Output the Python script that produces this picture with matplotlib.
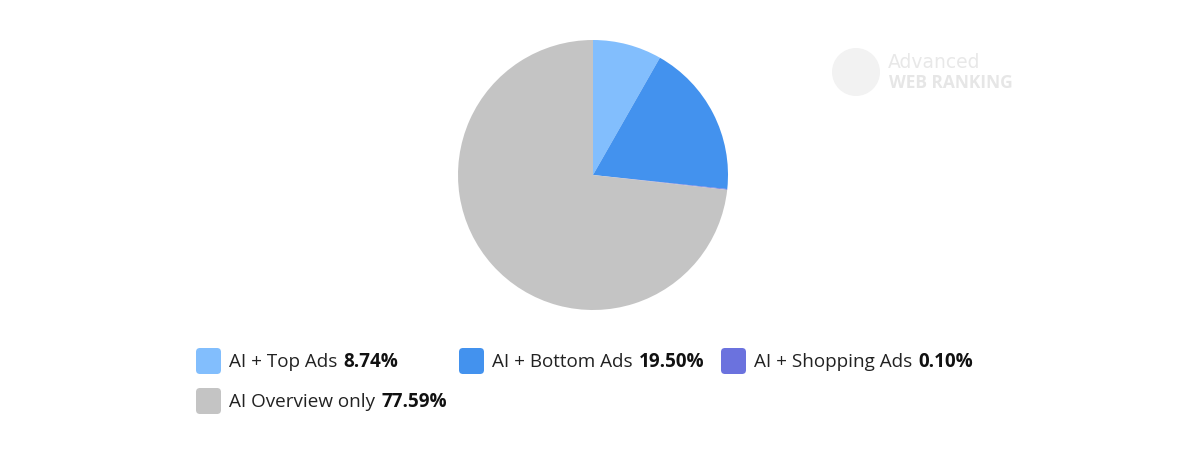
import matplotlib
matplotlib.use("Agg")
import matplotlib.pyplot as plt
from matplotlib.patches import FancyBboxPatch, Circle

labels = ["AI + Top Ads", "AI + Bottom Ads", "AI + Shopping Ads", "AI Overview only"]
values = [8.74, 19.50, 0.10, 77.59]
colors = ["#82BEFD", "#4392EE", "#6B72DE", "#C4C4C4"]

W, H = 1200, 458
fig = plt.figure(figsize=(W / 100, H / 100), dpi=100)
fig.patch.set_facecolor("white")

# Pie
cx, cy, r = 593, 175, 135
ax = fig.add_axes([(cx - r) / W, (H - cy - r) / H, 2 * r / W, 2 * r / H])
ax.pie(values, colors=colors, startangle=90, counterclock=False, radius=1,
       wedgeprops=dict(linewidth=0))
ax.set_xlim(-1, 1)
ax.set_ylim(-1, 1)
ax.set_aspect("equal")
ax.axis("off")

# Watermark
wm = fig.add_axes([0, 0, 1, 1], facecolor="none")
wm.set_xlim(0, W)
wm.set_ylim(H, 0)
wm.axis("off")
wm.add_patch(Circle((856, 72), 24, facecolor="#F2F2F2", edgecolor="none"))
wm.text(888, 62, "Advanced", fontsize=13.5, color="#E8E8E8", family="Liberation Sans Narrow",
        va="center", ha="left")
wm.text(889, 83, "WEB RANKING", fontsize=12.5, color="#E6E6E6", family="Open Sans",
        weight="bold", va="center", ha="left")

# Legend
items = [(196, 361), (459, 361), (721, 361), (196, 401)]
fs = 13.6
fig.canvas.draw()
renderer = fig.canvas.get_renderer()
for (x, y), lab, val, col in zip(items, labels, values, colors):
    wm.add_patch(FancyBboxPatch((x, y - 13), 25, 26,
                                boxstyle="round,pad=0,rounding_size=4",
                                facecolor=col, edgecolor="none"))
    t = wm.text(x + 33, y + 1, lab, fontsize=fs, color="#222222",
                family="Open Sans", va="center", ha="left")
    bb = t.get_window_extent(renderer=renderer)
    wm.text(bb.x1 + 6, y + 1, f"{val:.2f}%", fontsize=fs, color="#111111",
            family="Open Sans", weight="bold", va="center", ha="left")

fig.savefig("out.png", dpi=100, facecolor="white")
